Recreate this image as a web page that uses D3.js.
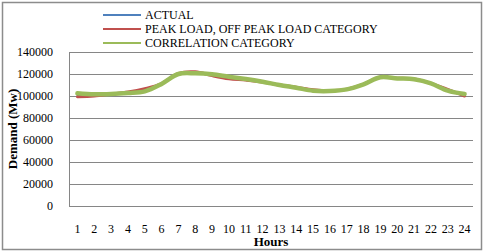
<!DOCTYPE html>
<html><head><meta charset="utf-8">
<script src="https://cdn.jsdelivr.net/npm/d3@7"></script>
<style>body{margin:0;background:#fff}svg{display:block}</style>
</head><body>
<svg id="c" width="485" height="252"></svg>
<script>
const hours = d3.range(1, 25);
const yTicks = [0, 20000, 40000, 60000, 80000, 100000, 120000, 140000];
const actual = [100800, 100800, 101800, 103000, 105400, 111000, 120300, 121300, 119000, 116500, 115000, 113000, 110000, 107800, 105300, 104800, 106000, 110600, 117000, 116000, 115200, 111500, 105400, 100900];
const peakOffPeak = [99400, 100000, 101800, 103600, 106600, 111200, 120600, 122000, 118500, 115700, 114500, 112800, 110000, 108000, 105800, 105000, 106200, 110800, 117000, 116200, 115400, 111500, 106000, 100000];
const correlation = [102400, 101500, 101800, 102700, 104200, 111000, 120000, 120600, 119700, 117500, 115500, 113000, 110000, 107500, 104800, 104500, 106000, 110600, 117000, 116000, 115200, 111500, 104800, 101800];
const seriesNames = ["ACTUAL", "PEAK LOAD, OFF PEAK LOAD CATEGORY", "CORRELATION CATEGORY"];
const seriesColors = ["#4F81BD", "#C0504D", "#9BBB59"];
const seriesWidths = [2, 3, 4.5];

(function () {
const svg = d3.select("#c");
const font = "'Liberation Serif', 'Times New Roman', serif";
const pL = 69, pR = 473, pT = 52, pB = 206;

svg.append("rect").attr("x", 2.5).attr("y", 2.5).attr("width", 479).attr("height", 247)
  .attr("fill", "#fff").attr("stroke", "#8c8c8c").attr("stroke-width", 1.5);

const x = d3.scaleBand().domain(hours).range([pL, pR]).padding(0);
const y = d3.scaleLinear().domain([0, 140000]).range([pB, pT]);

svg.append("g").selectAll("line").data(yTicks).join("line")
  .attr("x1", pL).attr("x2", pR)
  .attr("y1", d => Math.round(y(d)) + 0.5).attr("y2", d => Math.round(y(d)) + 0.5)
  .attr("stroke", "#868686").attr("stroke-width", 1);
svg.append("line").attr("x1", pL + 0.5).attr("x2", pL + 0.5).attr("y1", pT).attr("y2", pB + 0.5)
  .attr("stroke", "#868686");

const yAxis = d3.axisLeft(y).tickValues(yTicks).tickSize(0).tickPadding(16).tickFormat(d3.format("d"));
const ga = svg.append("g").attr("transform", `translate(${pL},0)`).call(yAxis);
ga.select(".domain").remove();
ga.selectAll("text").attr("font-family", font).attr("font-size", 12).attr("fill", "#000");

const xAxis = d3.axisBottom(x).tickSize(0).tickPadding(18);
const gx = svg.append("g").attr("transform", `translate(0,${pB})`).call(xAxis);
gx.select(".domain").remove();
gx.selectAll("text").attr("font-family", font).attr("font-size", 12).attr("fill", "#000");

const line = d3.line().x((d, i) => x(hours[i]) + x.bandwidth() / 2).y(d => y(d)).curve(d3.curveCatmullRom.alpha(0.5));
[actual, peakOffPeak, correlation].forEach((s, i) => {
  svg.append("path").datum(s).attr("d", line).attr("fill", "none")
    .attr("stroke", seriesColors[i]).attr("stroke-width", seriesWidths[i])
    .attr("stroke-linejoin", "round").attr("stroke-linecap", "round");
});

const lg = svg.append("g");
seriesNames.forEach((n, i) => {
  const ly = 15 + i * 14;
  lg.append("line").attr("x1", 103).attr("x2", 141).attr("y1", ly).attr("y2", ly)
    .attr("stroke", seriesColors[i]).attr("stroke-width", 2);
  lg.append("text").attr("x", 145).attr("y", ly + 4).text(n)
    .attr("font-family", font).attr("font-size", 12).attr("fill", "#000");
});

svg.append("text").attr("x", (pL + pR) / 2).attr("y", 246).attr("text-anchor", "middle")
  .attr("font-family", font).attr("font-size", 13).attr("font-weight", "bold").text("Hours");
svg.append("text").attr("transform", `translate(17,${(pT + pB) / 2}) rotate(-90)`).attr("text-anchor", "middle")
  .attr("font-family", font).attr("font-size", 13).attr("font-weight", "bold").text("Demand (Mw)");
})();
</script>
</body></html>
